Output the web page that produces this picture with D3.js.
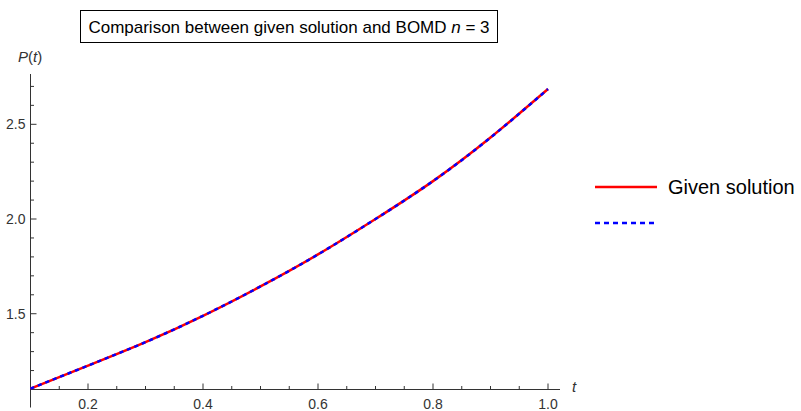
<!DOCTYPE html>
<html><head><meta charset="utf-8">
<script src="https://cdn.jsdelivr.net/npm/d3@7"></script>
<style>body{margin:0;background:#fff}svg{display:block}text{font-family:"Liberation Sans",Arial,sans-serif}</style>
</head><body>
<script>
const tValues = [0.1,0.2,0.3,0.4,0.5,0.6,0.7,0.8,0.9,1.0];
const givenSolution = [1.105,1.226,1.350,1.489,1.644,1.813,2.000,2.200,2.430,2.686];
const bomdN3 = [1.105,1.226,1.350,1.489,1.644,1.813,2.000,2.200,2.430,2.686];
const xMajorTicks = [0.2,0.4,0.6,0.8,1.0];
const yMajorTicks = [1.5,2.0,2.5];
const titleText = "Comparison between given solution and BOMD ";
const legendLabels = ["Given solution",""];

const W=801,H=411;
const svg=d3.select("body").append("svg").attr("width",W).attr("height",H);
const x=d3.scaleLinear().domain([0.1,1.0]).range([30.5,548]);
const y=d3.scaleLinear().domain([1.1,2.5]).range([389.5,124.3]);
const axisCol="#333";

// x axis
const gx=svg.append("g");
gx.append("line").attr("x1",x(0.1)).attr("x2",560).attr("y1",y(1.1)).attr("y2",y(1.1)).attr("stroke",axisCol).attr("stroke-width",1);
const xMinor=d3.range(0.15,1.001,0.05).filter(v=>!xMajorTicks.some(m=>Math.abs(m-v)<1e-6));
xMinor.forEach(v=>gx.append("line").attr("x1",x(v)).attr("x2",x(v)).attr("y1",y(1.1)).attr("y2",y(1.1)-3.5).attr("stroke",axisCol));
xMajorTicks.forEach(v=>{
  gx.append("line").attr("x1",x(v)).attr("x2",x(v)).attr("y1",y(1.1)).attr("y2",y(1.1)-6).attr("stroke",axisCol);
  gx.append("text").attr("x",x(v)).attr("y",y(1.1)+19).attr("text-anchor","middle").attr("font-size",14).attr("fill","#333").text(d3.format(".1f")(v));
});
gx.append("text").attr("x",572).attr("y",392).attr("font-size",15).attr("font-style","italic").attr("fill","#333").text("t");

// y axis
const gy=svg.append("g");
gy.append("line").attr("x1",x(0.1)).attr("x2",x(0.1)).attr("y1",y(1.1)+18).attr("y2",74).attr("stroke",axisCol);
const yMinor=d3.range(1.2,2.71,0.1).filter(v=>!yMajorTicks.some(m=>Math.abs(m-v)<1e-6));
yMinor.forEach(v=>gy.append("line").attr("x1",x(0.1)).attr("x2",x(0.1)+3.5).attr("y1",y(v)).attr("y2",y(v)).attr("stroke",axisCol));
yMajorTicks.forEach(v=>{
  gy.append("line").attr("x1",x(0.1)).attr("x2",x(0.1)+6).attr("y1",y(v)).attr("y2",y(v)).attr("stroke",axisCol);
  gy.append("text").attr("x",25.5).attr("y",y(v)+5).attr("text-anchor","end").attr("font-size",14).attr("fill","#333").text(d3.format(".1f")(v));
});
const pl=svg.append("text").attr("x",18).attr("y",62).attr("font-size",15).attr("fill","#333");
pl.append("tspan").attr("font-style","italic").text("P");
pl.append("tspan").text("(");
pl.append("tspan").attr("font-style","italic").text("t");
pl.append("tspan").text(")");

// lines
const line=d3.line().x(d=>x(d[0])).y(d=>y(d[1])).curve(d3.curveNatural);
svg.append("path").datum(tValues.map((t,i)=>[t,givenSolution[i]])).attr("d",line).attr("fill","none").attr("stroke","#ff0000").attr("stroke-width",2.5);
svg.append("path").datum(tValues.map((t,i)=>[t,bomdN3[i]])).attr("d",line).attr("fill","none").attr("stroke","#0000ff").attr("stroke-width",2.5).attr("stroke-dasharray","4,4");

// title box
svg.append("rect").attr("x",80.5).attr("y",10.5).attr("width",417).attr("height",32).attr("fill","#fff").attr("stroke","#000").attr("stroke-width",1);
const tt=svg.append("text").attr("x",289).attr("y",33).attr("text-anchor","middle").attr("font-size",17).attr("fill","#000");
tt.append("tspan").text(titleText);
tt.append("tspan").attr("font-style","italic").text("n");
tt.append("tspan").text(" = 3");

// legend
svg.append("line").attr("x1",595).attr("x2",657).attr("y1",187).attr("y2",187).attr("stroke","#ff0000").attr("stroke-width",2.5);
svg.append("text").attr("x",668).attr("y",194).attr("font-size",20).attr("fill","#000").text(legendLabels[0]);
svg.append("line").attr("x1",595).attr("x2",655).attr("y1",223).attr("y2",223).attr("stroke","#0000ff").attr("stroke-width",2.5).attr("stroke-dasharray","5,4");
</script>
</body></html>
